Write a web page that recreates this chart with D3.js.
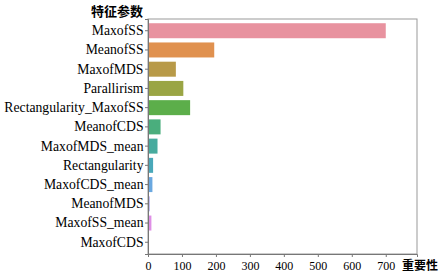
<!DOCTYPE html>
<html>
<head>
<meta charset="utf-8">
<script src="https://cdn.jsdelivr.net/npm/d3@7"></script>
<style>
  body { margin: 0; background: #fff; }
</style>
</head>
<body>
<div id="chart"></div>
<script>
// feature importance bar chart
const features = ["MaxofSS", "MeanofSS", "MaxofMDS", "Parallirism", "Rectangularity_MaxofSS",
  "MeanofCDS", "MaxofMDS_mean", "Rectangularity", "MaxofCDS_mean", "MeanofMDS",
  "MaxofSS_mean", "MaxofCDS"];
const importance = [700, 195, 82, 104, 124, 37, 28, 15, 13, 5, 10, 3];
const barColors = ["#e8929f", "#e0914f", "#b89a48", "#9aa544", "#5cae4a", "#4aae7d",
  "#47ab9e", "#49a8b9", "#6aa8e0", "#a9a3ea", "#df8fe6", "#e58fc7"];
const xTicks = [0, 100, 200, 300, 400, 500, 600, 700];

const width = 444, height = 274;
const margin = { top: 19, right: 27, bottom: 20, left: 148 };
const innerW = width - margin.left - margin.right;
const innerH = height - margin.top - margin.bottom;

const svg = d3.select("#chart").append("svg")
  .attr("width", width)
  .attr("height", height);

const g = svg.append("g")
  .attr("transform", `translate(${margin.left},${margin.top})`);

const x = d3.scaleLinear().domain([0, 792]).range([0, innerW]);
const y = d3.scaleBand().domain(features).range([0, innerH]).padding(0.22);

// bars
g.selectAll(".bar")
  .data(features)
  .join("rect")
  .attr("class", "bar")
  .attr("x", x(0))
  .attr("y", d => y(d))
  .attr("width", (d, i) => x(importance[i]) - x(0))
  .attr("height", y.bandwidth())
  .attr("fill", (d, i) => barColors[i]);

// frame
g.append("rect")
  .attr("width", innerW)
  .attr("height", innerH)
  .attr("fill", "none")
  .attr("stroke", "#999")
  .attr("stroke-width", 1);

// axes
const xAxis = g.append("g")
  .attr("transform", `translate(0,${innerH})`)
  .call(d3.axisBottom(x).tickValues(xTicks).tickSize(3).tickPadding(4));
const yAxis = g.append("g")
  .call(d3.axisLeft(y).tickSize(3).tickPadding(1.5));

[xAxis, yAxis].forEach(a => {
  a.select(".domain").attr("stroke", "#777");
  a.selectAll(".tick line").attr("stroke", "#777");
  a.selectAll("text")
    .attr("fill", "#000")
    .style("font-family", "'Liberation Serif', serif");
});
xAxis.selectAll("text").style("font-size", "12px");
yAxis.selectAll("text").style("font-size", "13.7px");

// axis titles
svg.append("text")
  .attr("x", 117)
  .attr("y", 16)
  .attr("text-anchor", "middle")
  .style("font-family", "'Noto Sans CJK SC', sans-serif")
  .style("font-weight", "bold")
  .style("font-size", "13px")
  .text("特征参数");

svg.append("text")
  .attr("x", 438)
  .attr("y", 270)
  .attr("text-anchor", "end")
  .style("font-family", "'Noto Sans CJK SC', sans-serif")
  .style("font-weight", "bold")
  .style("font-size", "12px")
  .text("重要性");
</script>
</body>
</html>
